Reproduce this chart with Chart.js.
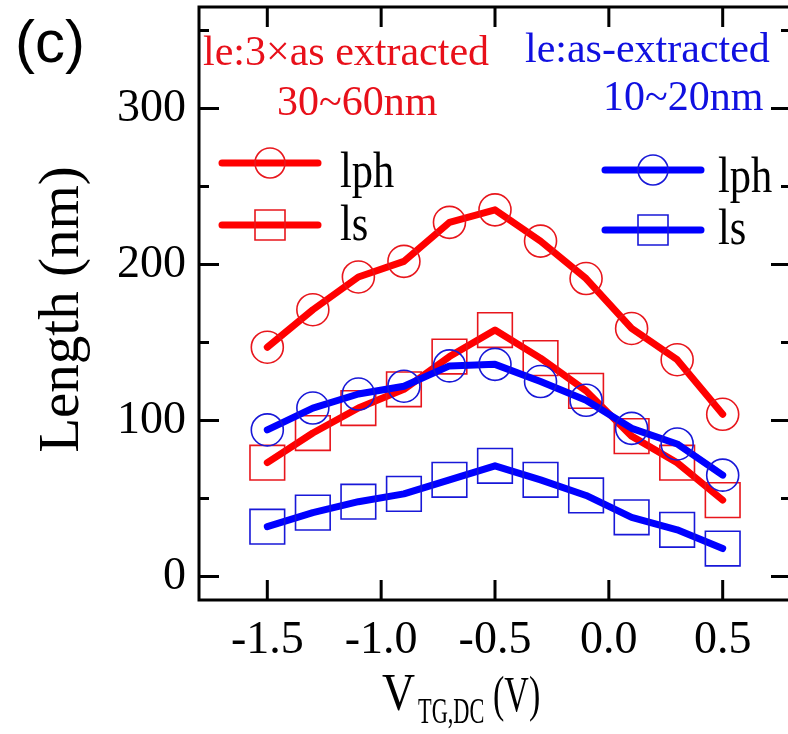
<!DOCTYPE html>
<html>
<head>
<meta charset="utf-8">
<script src="https://cdn.jsdelivr.net/npm/chart.js@4.4.0/dist/chart.umd.min.js"></script>
<style>
html, body { margin: 0; padding: 0; background: #fff; overflow: hidden; }
canvas { display: block; }
</style>
</head>
<body>
<canvas id="lenChart" width="800" height="734"></canvas>
<script>
// top gate DC voltage (V)
let vGate = [-1.5, -1.3, -1.1, -0.9, -0.7, -0.5, -0.3, -0.1, 0.1, 0.3, 0.5];

// le : 3x as extracted (30~60nm)
let lphRed = [147, 171, 192, 202, 227, 235, 215, 191, 159, 139, 104];
let lsRed = [73, 92, 108, 120, 141, 158, 140, 119, 90, 73, 49];

// le : as extracted (10~20nm)
let lphBlue = [94, 108, 117, 122, 135, 136, 125, 113, 95, 85, 65];
let lsBlue = [32, 41, 48, 53, 62, 71, 62, 52, 38, 30, 18];

let xTicks = [-1.5, -1.0, -0.5, 0.0, 0.5];
let yTicks = [0, 100, 200, 300];
let yMinor = [50, 150, 250, 350];

let RED = "#ff0000";
let RED_MK = "#e8161c";
let BLUE = "#0000ff";
let BLUE_MK = "#1818d8";
let SERIF = "'Liberation Serif', 'Times New Roman', serif";

function pts(ys) {
    return vGate.map(function(v, i) { return {x: v, y: ys[i]}; });
}

function series(label, ys, line, mark, style, r) {
    return {
        label: label,
        data: pts(ys),
        borderColor: line,
        borderWidth: 7,
        borderCapStyle: "round",
        borderJoinStyle: "round",
        pointStyle: style,
        pointRadius: r,
        pointHoverRadius: r,
        pointBorderColor: mark,
        pointBackgroundColor: "rgba(0,0,0,0)",
        pointBorderWidth: 1.6,
        tension: 0
    };
}

function txt(ctx, s, x, y, size, color, sx, font) {
    ctx.save();
    ctx.font = size + "px " + (font || SERIF);
    ctx.fillStyle = color;
    ctx.textAlign = "left";
    ctx.textBaseline = "alphabetic";
    ctx.translate(x, y);
    ctx.scale(sx || 1, 1);
    ctx.fillText(s, 0, 0);
    ctx.restore();
}

function legendRow(ctx, x0, x1, y, color, mark, square) {
    ctx.save();
    ctx.strokeStyle = color;
    ctx.lineWidth = 7;
    ctx.lineCap = "round";
    ctx.beginPath();
    ctx.moveTo(x0, y);
    ctx.lineTo(x1, y);
    ctx.stroke();
    let cx = (x0 + x1) / 2;
    ctx.strokeStyle = mark;
    ctx.lineWidth = 1.6;
    ctx.beginPath();
    if (square) {
        ctx.rect(cx - 15, y - 15, 30, 30);
    } else {
        ctx.arc(cx, y, 15, 0, Math.PI * 2);
    }
    ctx.stroke();
    ctx.restore();
}

// frame, inward ticks, titles and the in-plot notes
let decor = {
    id: "decor",
    afterDraw: function(chart) {
        let ctx = chart.ctx;
        let a = chart.chartArea;
        let xs = chart.scales.x;
        let ys = chart.scales.y;

        ctx.save();
        ctx.strokeStyle = "#000";
        ctx.lineWidth = 3;
        ctx.strokeRect(a.left, a.top, a.right - a.left, a.bottom - a.top);

        ctx.beginPath();
        xTicks.forEach(function(v) {
            let px = xs.getPixelForValue(v);
            ctx.moveTo(px, a.bottom); ctx.lineTo(px, a.bottom - 20);
            ctx.moveTo(px, a.top); ctx.lineTo(px, a.top + 20);
        });
        yTicks.forEach(function(v) {
            let py = ys.getPixelForValue(v);
            ctx.moveTo(a.left, py); ctx.lineTo(a.left + 20, py);
            ctx.moveTo(a.right, py); ctx.lineTo(a.right - 20, py);
        });
        yMinor.forEach(function(v) {
            let py = ys.getPixelForValue(v);
            ctx.moveTo(a.left, py); ctx.lineTo(a.left + 10, py);
            ctx.moveTo(a.right, py); ctx.lineTo(a.right - 10, py);
        });
        ctx.stroke();
        ctx.restore();

        // panel label
        txt(ctx, "(c)", 15, 62, 60, "#000", 1, "'Liberation Sans', Arial, sans-serif");

        // y title
        ctx.save();
        ctx.font = "57px " + SERIF;
        ctx.fillStyle = "#000";
        ctx.textAlign = "center";
        ctx.textBaseline = "alphabetic";
        ctx.translate(78, (a.top + a.bottom) / 2 + 6);
        ctx.rotate(-Math.PI / 2);
        ctx.fillText("Length (nm)", 0, 0);
        ctx.restore();

        // x title with subscript
        txt(ctx, "V", 382, 710, 52, "#000", 0.88);
        txt(ctx, "TG,DC", 418, 723, 36, "#000", 0.62);
        txt(ctx, "(V)", 493, 711, 50, "#000", 0.68);

        // notes
        txt(ctx, "le:3\u00d7as extracted", 203, 65, 42, "#e8101a");
        txt(ctx, "30~60nm", 277, 115, 42, "#e8101a");
        txt(ctx, "le:as-extracted", 525, 62, 42, "#1010e0");
        txt(ctx, "10~20nm", 603, 110, 42, "#1010e0");

        // legends
        legendRow(ctx, 222, 318, 163, RED, RED_MK, false);
        legendRow(ctx, 222, 318, 225, RED, RED_MK, true);
        txt(ctx, "lph", 340, 187, 50, "#000", 0.85);
        txt(ctx, "ls", 340, 240, 50, "#000", 0.85);

        legendRow(ctx, 605, 701, 170, BLUE, BLUE_MK, false);
        legendRow(ctx, 605, 701, 230, BLUE, BLUE_MK, true);
        txt(ctx, "lph", 718, 192, 50, "#000", 0.85);
        txt(ctx, "ls", 718, 244, 50, "#000", 0.85);
    }
};

let ctx = document.getElementById("lenChart").getContext("2d");

let lenChart = new Chart(ctx, {
    type: "line",
    data: {
        datasets: [
            series("lph blue", lphBlue, BLUE, BLUE_MK, "circle", 16),
            series("ls blue", lsBlue, BLUE, BLUE_MK, "rect", 24.5),
            series("lph red", lphRed, RED, RED_MK, "circle", 16),
            series("ls red", lsRed, RED, RED_MK, "rect", 24.5)
        ]
    },
    options: {
        responsive: false,
        animation: false,
        events: [],
        layout: { autoPadding: false, padding: { top: 7, right: 9, left: 0, bottom: 0 } },
        plugins: {
            legend: { display: false },
            tooltip: { enabled: false }
        },
        scales: {
            x: {
                type: "linear",
                min: -1.8,
                max: 0.8,
                grid: { display: false, drawTicks: false },
                border: { display: false },
                afterBuildTicks: function(s) {
                    s.ticks = xTicks.map(function(v) { return {value: v}; });
                },
                afterFit: function(s) {
                    s.height = 134;
                    s.paddingLeft = 0;
                    s.paddingRight = 0;
                },
                ticks: {
                    color: "#000",
                    padding: 13,
                    maxRotation: 0,
                    autoSkip: false,
                    font: { family: SERIF, size: 46 },
                    callback: function(v) { return v.toFixed(1); }
                }
            },
            y: {
                min: -15,
                max: 365,
                grid: { display: false, drawTicks: false },
                border: { display: false },
                afterBuildTicks: function(s) {
                    s.ticks = yTicks.map(function(v) { return {value: v}; });
                },
                afterFit: function(s) {
                    s.width = 199;
                    s.paddingTop = 0;
                    s.paddingBottom = 0;
                },
                ticks: {
                    color: "#000",
                    padding: 13,
                    font: { family: SERIF, size: 46 },
                    callback: function(v) { return String(v); }
                }
            }
        }
    },
    plugins: [decor]
});
</script>
</body>
</html>
